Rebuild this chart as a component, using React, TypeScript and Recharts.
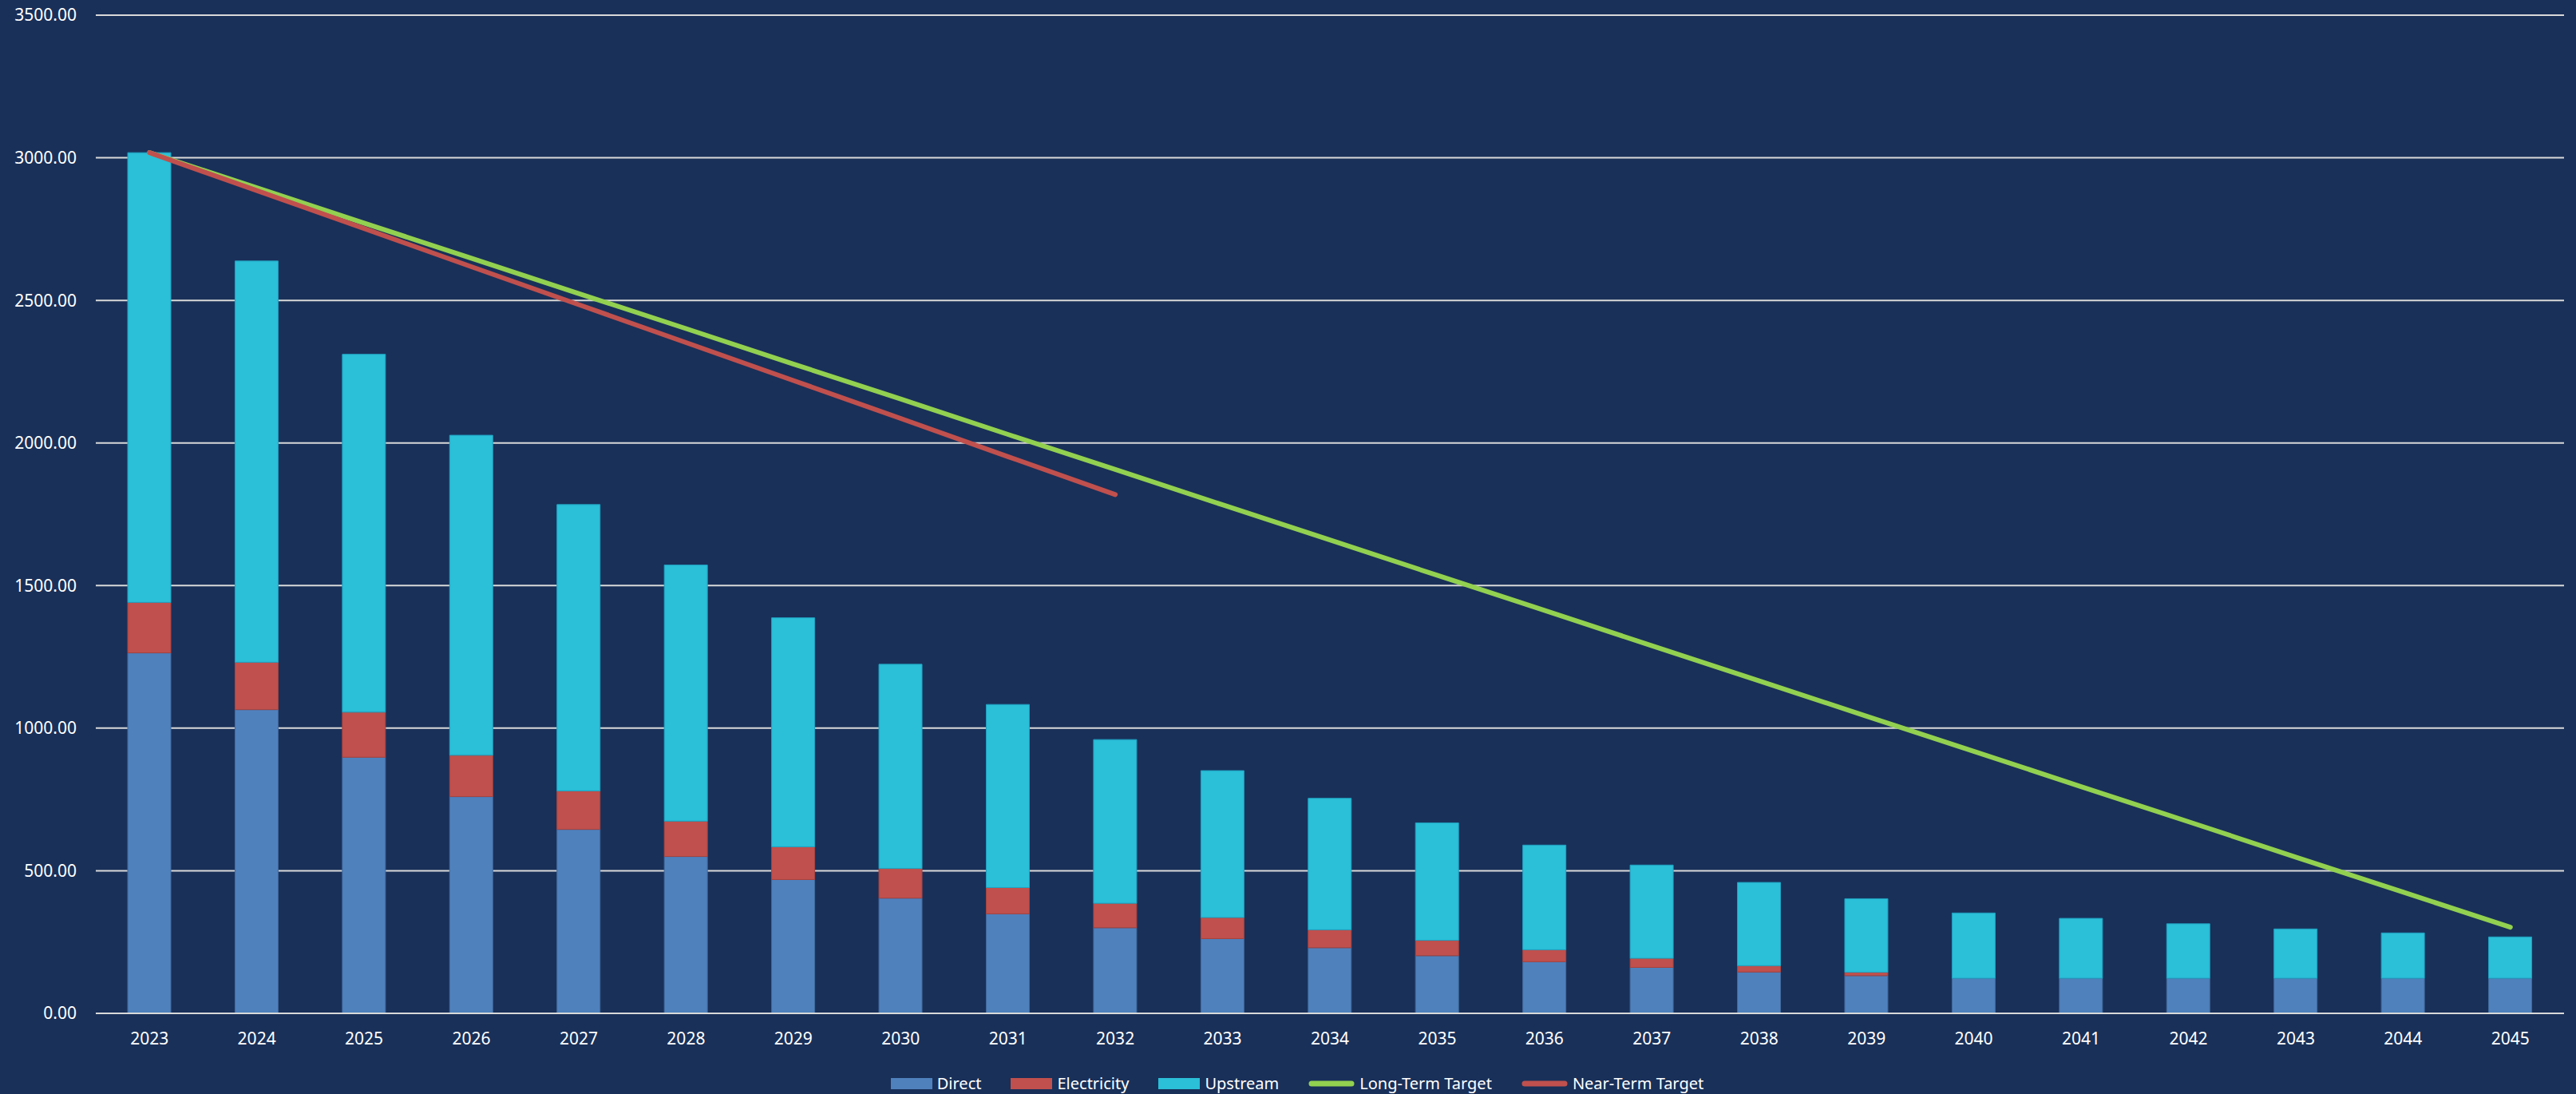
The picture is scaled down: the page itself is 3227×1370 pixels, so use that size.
import {
  ComposedChart,
  Bar,
  Line,
  XAxis,
  YAxis,
  CartesianGrid,
  Legend,
} from "recharts";

const years = [
  "2023", "2024", "2025", "2026", "2027", "2028", "2029", "2030", "2031", "2032", "2033", "2034",
  "2035", "2036", "2037", "2038", "2039", "2040", "2041", "2042", "2043", "2044", "2045",
];
const direct = [1264, 1065, 898, 760, 645, 550, 469, 404, 349, 300, 262, 230, 202, 181, 161, 145, 132, 123, 123, 123, 123, 123, 123];
const electricity = [177, 166, 158, 145, 135, 124, 115, 104, 92, 86, 74, 63, 54, 42, 32, 22, 12, 0, 0, 0, 0, 0, 0];
const upstream = [1577, 1407, 1255, 1122, 1004, 898, 803, 716, 642, 574, 515, 461, 412, 367, 327, 292, 258, 229, 210, 191, 173, 159, 145];
const longTerm = [3018, 2895, 2771, 2648, 2524, 2401, 2277, 2154, 2030, 1907, 1783, 1660, 1536, 1413, 1289, 1166, 1042, 919, 795, 672, 548, 425, 302];
const nearTerm = [3018, 2885, 2752, 2618, 2485, 2352, 2219, 2086, 1952, 1819];
const yTicks = [0, 500, 1000, 1500, 2000, 2500, 3000, 3500];
const legendOrder = ["Direct", "Electricity", "Upstream", "Long-Term Target", "Near-Term Target"];
const lineNames = ["Long-Term Target", "Near-Term Target"];

const BG = "#193059";
const FONT = "'Noto Sans', sans-serif";

const data = years.map((year, i) => ({
  year,
  direct: direct[i],
  electricity: electricity[i],
  upstream: upstream[i],
  longTerm: longTerm[i],
  nearTerm: i < nearTerm.length ? nearTerm[i] : null,
}));

// Excel-style legend: wide flat swatches for bars, thick rounded strokes for lines
function renderLegend(props: any) {
  const payload = [...(props.payload || [])].sort(
    (a: any, b: any) => legendOrder.indexOf(a.value) - legendOrder.indexOf(b.value)
  );
  return (
    <div
      style={{
        display: "flex",
        justifyContent: "center",
        alignItems: "center",
        gap: 37,
        height: 50,
        paddingTop: 23,
        boxSizing: "border-box",
        paddingLeft: 28,
      }}
    >
      {payload.map((entry: any) => {
        const isLine = lineNames.includes(entry.value);
        return (
          <div key={entry.value} style={{ display: "flex", alignItems: "center", gap: 6 }}>
            {isLine ? (
              <svg width={58} height={14}>
                <line x1={4} y1={7} x2={54} y2={7} stroke={entry.color} strokeWidth={7} strokeLinecap="round" />
              </svg>
            ) : (
              <div style={{ width: 52, height: 14, background: entry.color }} />
            )}
            <span style={{ color: "#fff", fontSize: 20, fontFamily: FONT, lineHeight: "20px" }}>{entry.value}</span>
          </div>
        );
      })}
    </div>
  );
}

export default function App() {
  return (
    <div style={{ position: "absolute", left: 0, top: 0, width: 3227, height: 1370, background: BG }}>
      <ComposedChart
        width={3227}
        height={1370}
        data={data}
        margin={{ top: 19, right: 15, left: 10, bottom: 0 }}
        style={{ background: BG }}
      >
        <CartesianGrid vertical={false} stroke="#d9d9d9" strokeWidth={2} />
        <XAxis
          dataKey="year"
          axisLine={{ stroke: "#d9d9d9", strokeWidth: 2 }}
          tickLine={false}
          tickSize={0}
          tickMargin={24}
          height={51}
          interval={0}
          tick={{ fill: "#fff", fontSize: 21, fontFamily: FONT }}
        />
        <YAxis
          domain={[0, 3500]}
          ticks={yTicks}
          axisLine={false}
          tickLine={false}
          tickSize={0}
          tickMargin={24}
          width={110}
          tickFormatter={(v: number) => v.toFixed(2)}
          tick={{ fill: "#fff", fontSize: 21, fontFamily: FONT }}
        />
        <Legend verticalAlign="bottom" height={50} content={renderLegend} />
        <Bar dataKey="direct" name="Direct" stackId="a" barSize={54} fill="#4f81bd" stroke="#41699c" strokeWidth={1} isAnimationActive={false} />
        <Bar dataKey="electricity" name="Electricity" stackId="a" barSize={54} fill="#c0504d" stroke="#a6433f" strokeWidth={1} isAnimationActive={false} />
        <Bar dataKey="upstream" name="Upstream" stackId="a" barSize={54} fill="#2bbfd8" stroke="#1fa0c0" strokeWidth={1} isAnimationActive={false} />
        <Line
          type="linear"
          dataKey="longTerm"
          name="Long-Term Target"
          stroke="#92d050"
          strokeWidth={6}
          strokeLinecap="round"
          dot={false}
          activeDot={false}
          isAnimationActive={false}
        />
        <Line
          type="linear"
          dataKey="nearTerm"
          name="Near-Term Target"
          stroke="#c0504d"
          strokeWidth={6}
          strokeLinecap="round"
          dot={false}
          activeDot={false}
          isAnimationActive={false}
        />
      </ComposedChart>
    </div>
  );
}
